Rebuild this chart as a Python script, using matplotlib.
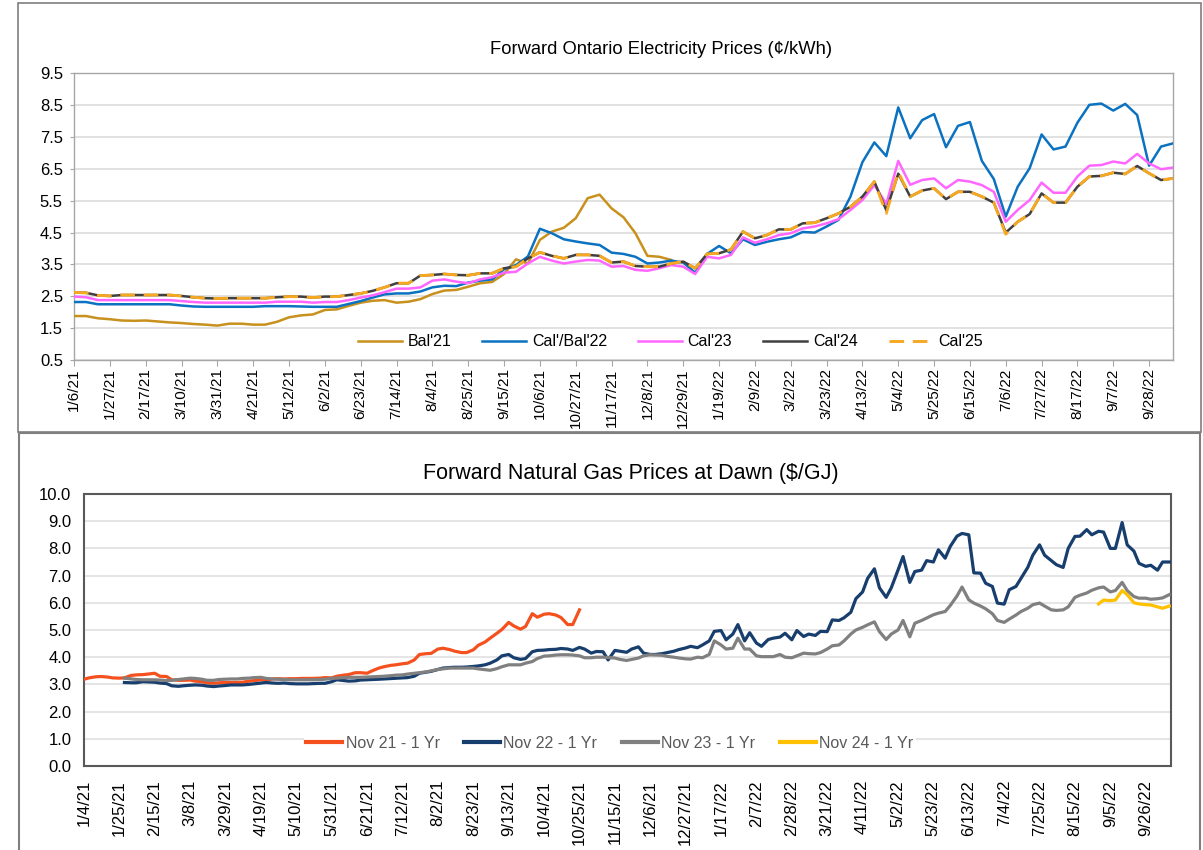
import numpy as np
import pandas as pd
import matplotlib
matplotlib.use("Agg")
import matplotlib.pyplot as plt
import matplotlib.dates as mdates
from matplotlib.patches import Rectangle
from matplotlib.ticker import FuncFormatter, FixedLocator

plt.rcParams['font.family'] = ['Liberation Sans', 'DejaVu Sans']

# ---------------- Top chart: Forward Ontario Electricity Prices (weekly) ----------------
elec_dates = pd.date_range('2021-01-06', periods=93, freq='7D')

bal21 = [1.88, 1.88, 1.81, 1.78, 1.74, 1.73, 1.74, 1.71, 1.68, 1.66,
         1.63, 1.61, 1.58, 1.64, 1.64, 1.61, 1.61, 1.70, 1.84, 1.90,
         1.93, 2.07, 2.09, 2.20, 2.30, 2.36, 2.38, 2.30, 2.33, 2.41,
         2.57, 2.68, 2.70, 2.80, 2.91, 2.95, 3.20, 3.66, 3.53, 4.27,
         4.53, 4.65, 4.95, 5.58, 5.69, 5.26, 4.98, 4.48, 3.77, 3.74,
         3.64]

cal22 = [2.32, 2.32, 2.25, 2.25, 2.25, 2.25, 2.25, 2.25, 2.25, 2.21,
         2.18, 2.17, 2.17, 2.17, 2.17, 2.17, 2.19, 2.19, 2.19, 2.18,
         2.17, 2.17, 2.17, 2.26, 2.35, 2.46, 2.56, 2.59, 2.59, 2.65,
         2.78, 2.83, 2.82, 2.93, 2.99, 3.03, 3.35, 3.48, 3.75, 4.62,
         4.48, 4.29, 4.22, 4.16, 4.11, 3.87, 3.83, 3.74, 3.53, 3.56,
         3.62, 3.56, 3.24, 3.83, 4.08, 3.85, 4.29, 4.11, 4.21, 4.29,
         4.35, 4.52, 4.50, 4.69, 4.90, 5.63, 6.71, 7.33, 6.90, 8.43,
         7.46, 8.03, 8.22, 7.18, 7.85, 7.97, 6.75, 6.18, 5.00, 5.94,
         6.52, 7.58, 7.11, 7.20, 7.95, 8.51, 8.55, 8.33, 8.54, 8.19,
         6.60, 7.20, 7.30]

cal23 = [2.49, 2.47, 2.38, 2.38, 2.38, 2.38, 2.38, 2.38, 2.38, 2.35,
         2.32, 2.30, 2.30, 2.30, 2.30, 2.30, 2.30, 2.33, 2.33, 2.33,
         2.30, 2.32, 2.32, 2.38, 2.46, 2.53, 2.63, 2.74, 2.74, 2.78,
         2.99, 3.03, 2.96, 2.91, 3.03, 3.10, 3.24, 3.27, 3.53, 3.74,
         3.62, 3.53, 3.59, 3.64, 3.62, 3.43, 3.45, 3.33, 3.30, 3.38,
         3.48, 3.43, 3.20, 3.74, 3.69, 3.80, 4.35, 4.18, 4.29, 4.42,
         4.48, 4.63, 4.69, 4.79, 4.92, 5.21, 5.52, 5.99, 5.40, 6.75,
         6.00, 6.15, 6.20, 5.89, 6.15, 6.10, 5.99, 5.78, 4.84, 5.21,
         5.52, 6.07, 5.75, 5.75, 6.26, 6.60, 6.62, 6.73, 6.67, 6.97,
         6.67, 6.49, 6.54]

cal24 = [2.62, 2.61, 2.53, 2.51, 2.54, 2.54, 2.54, 2.54, 2.54, 2.51,
         2.47, 2.44, 2.43, 2.44, 2.44, 2.44, 2.44, 2.47, 2.49, 2.49,
         2.46, 2.49, 2.49, 2.54, 2.59, 2.67, 2.78, 2.91, 2.91, 3.15,
         3.17, 3.20, 3.17, 3.16, 3.22, 3.22, 3.38, 3.43, 3.69, 3.88,
         3.77, 3.69, 3.80, 3.80, 3.77, 3.56, 3.59, 3.45, 3.43, 3.43,
         3.53, 3.59, 3.38, 3.83, 3.85, 3.97, 4.53, 4.32, 4.42, 4.60,
         4.60, 4.79, 4.81, 4.95, 5.10, 5.31, 5.63, 6.10, 5.20, 6.35,
         5.63, 5.82, 5.89, 5.55, 5.78, 5.78, 5.63, 5.44, 4.50, 4.84,
         5.08, 5.73, 5.44, 5.44, 5.94, 6.26, 6.28, 6.38, 6.34, 6.59,
         6.36, 6.15, 6.20]

cal25 = [2.62, 2.61, 2.53, 2.51, 2.54, 2.54, 2.54, 2.54, 2.54, 2.51,
         2.47, 2.44, 2.43, 2.44, 2.44, 2.44, 2.44, 2.47, 2.49, 2.49,
         2.46, 2.49, 2.49, 2.54, 2.59, 2.67, 2.78, 2.91, 2.91, 3.15,
         3.17, 3.20, 3.17, 3.16, 3.22, 3.22, 3.38, 3.43, 3.69, 3.88,
         3.77, 3.69, 3.80, 3.80, 3.77, 3.56, 3.59, 3.45, 3.43, 3.43,
         3.53, 3.59, 3.38, 3.83, 3.85, 3.97, 4.53, 4.32, 4.42, 4.60,
         4.60, 4.79, 4.81, 4.95, 5.10, 5.31, 5.63, 6.10, 5.10, 6.40,
         5.63, 5.82, 5.89, 5.55, 5.78, 5.78, 5.63, 5.44, 4.45, 4.84,
         5.08, 5.73, 5.44, 5.44, 5.94, 6.26, 6.28, 6.38, 6.34, 6.59,
         6.36, 6.15, 6.20]

elec_labels = ["Bal'21", "Cal'/Bal'22", "Cal'23", "Cal'24", "Cal'25"]

# ---------------- Bottom chart: Forward Natural Gas Prices at Dawn (Mon/Thu) ----------------
_mondays = pd.date_range('2021-01-04', periods=93, freq='7D')
gas_dates = pd.DatetimeIndex(sorted(list(_mondays) + list(_mondays[:-1] + pd.Timedelta(days=3))))

nov21_start = 0
nov21 = [3.19, 3.24, 3.28, 3.29, 3.27, 3.24, 3.23, 3.24, 3.33, 3.35,
         3.36, 3.38, 3.41, 3.30, 3.29, 3.17, 3.15, 3.15, 3.16, 3.12,
         3.10, 3.06, 3.04, 3.06, 3.07, 3.07, 3.07, 3.08, 3.12, 3.14,
         3.17, 3.16, 3.20, 3.21, 3.20, 3.21, 3.21, 3.22, 3.22, 3.22,
         3.23, 3.25, 3.24, 3.30, 3.34, 3.36, 3.43, 3.43, 3.41, 3.50,
         3.60, 3.65, 3.70, 3.72, 3.76, 3.78, 3.90, 4.10, 4.13, 4.14,
         4.30, 4.33, 4.28, 4.22, 4.17, 4.17, 4.27, 4.44, 4.56, 4.70,
         4.88, 5.02, 5.28, 5.15, 5.03, 5.13, 5.60, 5.47, 5.58, 5.60,
         5.55, 5.46, 5.20, 5.20, 5.74]

nov22_start = 7
nov22 = [3.07,
         3.06, 3.06, 3.10, 3.09, 3.08, 3.05, 3.03, 2.95, 2.93, 2.95,
         2.97, 2.98, 2.97, 2.94, 2.92, 2.94, 2.96, 2.98, 2.98, 2.98,
         3.00, 3.02, 3.05, 3.07, 3.05, 3.04, 3.05, 3.03, 3.02, 3.02,
         3.02, 3.03, 3.04, 3.04, 3.10, 3.17, 3.14, 3.12, 3.13, 3.16,
         3.17, 3.18, 3.19, 3.20, 3.21, 3.22, 3.24, 3.25, 3.30, 3.41,
         3.45, 3.48, 3.55, 3.60, 3.62, 3.63, 3.63, 3.64, 3.66, 3.68,
         3.72, 3.78, 3.90, 4.05, 4.10, 3.98, 3.92, 3.95, 4.20, 4.25,
         4.26, 4.28, 4.29, 4.32, 4.30, 4.25, 4.36, 4.30, 4.15, 4.21,
         4.20, 3.90, 4.25, 4.22, 4.18, 4.30, 4.38, 4.15, 4.10, 4.10,
         4.13, 4.17, 4.22, 4.28, 4.34, 4.40, 4.35, 4.45, 4.60, 4.95,
         4.98, 4.64, 4.85, 5.20, 4.60, 4.90, 4.52, 4.40, 4.65, 4.70,
         4.74, 4.88, 4.64, 4.98, 4.76, 4.85, 4.80, 4.95, 4.94, 5.37,
         5.35, 5.45, 5.65, 6.15, 6.40, 6.90, 7.25, 6.55, 6.20, 6.55,
         7.20, 7.70, 6.75, 7.15, 7.20, 7.55, 7.50, 7.95, 7.64, 8.07,
         8.45, 8.55, 8.50, 7.10, 7.09, 6.72, 6.60, 5.99, 5.95, 6.48,
         6.60, 6.90, 7.30, 7.75, 8.13, 7.75, 7.55, 7.40, 7.30, 8.00,
         8.44, 8.45, 8.69, 8.50, 8.63, 8.60, 8.00, 8.00, 8.95, 8.13,
         7.90, 7.45, 7.34, 7.38, 7.20, 7.50, 7.50]

nov23_start = 7
nov23 = [3.23,
         3.20, 3.18, 3.17, 3.17, 3.17, 3.16, 3.14, 3.15, 3.18, 3.20,
         3.23, 3.22, 3.19, 3.15, 3.15, 3.18, 3.19, 3.20, 3.20, 3.22,
         3.23, 3.25, 3.26, 3.22, 3.20, 3.19, 3.18, 3.17, 3.17, 3.17,
         3.17, 3.17, 3.18, 3.19, 3.22, 3.23, 3.25, 3.26, 3.26, 3.26,
         3.27, 3.28, 3.29, 3.30, 3.32, 3.34, 3.35, 3.38, 3.41, 3.43,
         3.46, 3.50, 3.55, 3.57, 3.60, 3.60, 3.60, 3.60, 3.60, 3.57,
         3.54, 3.52, 3.58, 3.65, 3.72, 3.72, 3.72, 3.78, 3.84, 3.95,
         4.04, 4.05, 4.08, 4.09, 4.09, 4.08, 4.05, 3.98, 3.98, 4.00,
         4.00, 3.99, 3.97, 3.92, 3.88, 3.92, 3.97, 4.05, 4.09, 4.08,
         4.07, 4.03, 4.00, 3.97, 3.94, 3.93, 4.00, 3.98, 4.10, 4.60,
         4.45, 4.30, 4.33, 4.70, 4.30, 4.30, 4.05, 4.02, 4.02, 4.02,
         4.10, 4.00, 3.98, 4.05, 4.15, 4.13, 4.12, 4.17, 4.30, 4.42,
         4.45, 4.60, 4.85, 5.00, 5.10, 5.19, 5.30, 4.94, 4.65, 4.85,
         5.00, 5.35, 4.75, 5.25, 5.35, 5.44, 5.56, 5.62, 5.68, 5.90,
         6.25, 6.58, 6.11, 5.99, 5.88, 5.78, 5.60, 5.35, 5.28, 5.40,
         5.55, 5.68, 5.80, 5.93, 5.99, 5.88, 5.74, 5.72, 5.74, 5.85,
         6.20, 6.28, 6.36, 6.46, 6.55, 6.58, 6.40, 6.45, 6.75, 6.45,
         6.23, 6.17, 6.17, 6.13, 6.15, 6.18, 6.30]

nov24_start = 172
nov24 = [5.96, 6.10, 6.08, 6.10, 6.45, 6.30, 6.00, 5.96, 5.93, 5.92,
         5.85, 5.80, 5.88]

gas_labels = ["Nov 21 - 1 Yr", "Nov 22 - 1 Yr", "Nov 23 - 1 Yr", "Nov 24 - 1 Yr"]

# ---------------- Figure ----------------
W, H = 1203, 850
fig = plt.figure(figsize=(W / 100, H / 100), dpi=100)
fig.patch.set_facecolor('white')


def fx(px):
    return px / W


def fy(py):
    return 1 - py / H


def date_fmt(x, pos=None):
    d = mdates.num2date(x)
    return f"{d.month}/{d.day}/{d:%y}"


# outer chart frames
fig.add_artist(Rectangle((fx(18), fy(432)), fx(1201) - fx(18), fy(3) - fy(432),
                         transform=fig.transFigure, fill=False, edgecolor='#7F7F7F', lw=1.2))
fig.add_artist(Rectangle((fx(18.5), fy(860)), fx(1200) - fx(18.5), fy(432.5) - fy(860),
                         transform=fig.transFigure, fill=False, edgecolor='#7F7F7F', lw=1.5,
                         clip_on=False))

# ---- top axes ----
ax1 = fig.add_axes([fx(74), fy(360), fx(1173) - fx(74), fy(73.3) - fy(360)])
colors1 = ['#C8901C', '#0A72C0', '#FF66FF', '#404040', '#F7A823']
series1 = [bal21, cal22, cal23, cal24]
for vals, col, lab in zip(series1, colors1[:4], elec_labels[:4]):
    ax1.plot(elec_dates[:len(vals)], vals, color=col, lw=1.8, label=lab, zorder=3)
ax1.plot(elec_dates, cal25, color=colors1[4], lw=2.1, dashes=(5, 3),
         label=elec_labels[4], zorder=4)

ax1.set_ylim(0.5, 9.5)
ax1.set_yticks(np.arange(0.5, 9.6, 1.0))
ax1.yaxis.set_major_formatter(FuncFormatter(lambda v, p: f"{v:.1f}"))
ax1.set_xlim(pd.Timestamp('2021-01-06'), pd.Timestamp('2022-10-12'))
ticks1 = pd.date_range('2021-01-06', '2022-10-12', freq='21D')
ax1.xaxis.set_major_locator(FixedLocator(mdates.date2num(ticks1)))
ax1.xaxis.set_major_formatter(FuncFormatter(date_fmt))
ax1.grid(axis='y', color='#D9D9D9', lw=1.1)
ax1.set_axisbelow(True)
for s in ax1.spines.values():
    s.set_color('#A6A6A6')
    s.set_linewidth(1.0)
ax1.tick_params(axis='x', labelrotation=90, labelsize=11, length=4, pad=2,
                color='#A6A6A6', labelcolor='#000000')
ax1.tick_params(axis='y', labelsize=12, length=3, pad=5, color='#A6A6A6',
                labelcolor='#000000')
fig.text(fx(661), fy(50), 'Forward Ontario Electricity Prices (¢/kWh)',
         ha='center', va='center', fontsize=13.2, color='#000000')
leg1 = ax1.legend(loc='center left', bbox_to_anchor=(fx(358), fy(342)),
                  bbox_transform=fig.transFigure, ncol=5, frameon=False,
                  fontsize=11.5, handlelength=2.75, handletextpad=0.35,
                  columnspacing=1.95, borderpad=0, borderaxespad=0)

# ---- bottom axes ----
ax2 = fig.add_axes([fx(84), fy(766), fx(1171) - fx(84), fy(494) - fy(766)])
colors2 = ['#F4511E', '#183E6E', '#808080', '#FFC000']
gas_series = [(nov21_start, nov21), (nov22_start, nov22), (nov23_start, nov23),
              (nov24_start, nov24)]
for (st, vals), col, lab in zip(gas_series, colors2, gas_labels):
    ax2.plot(gas_dates[st:st + len(vals)], vals, color=col, lw=2.3, label=lab,
             solid_joinstyle='round', zorder=3)

ax2.set_ylim(0, 10)
ax2.set_yticks(np.arange(0, 10.1, 1.0))
ax2.yaxis.set_major_formatter(FuncFormatter(lambda v, p: f"{v:.1f}"))
ax2.set_xlim(pd.Timestamp('2021-01-04'), pd.Timestamp('2022-10-11'))
ticks2 = pd.date_range('2021-01-04', '2022-10-11', freq='21D')
ax2.xaxis.set_major_locator(FixedLocator(mdates.date2num(ticks2)))
ax2.xaxis.set_major_formatter(FuncFormatter(date_fmt))
ax2.grid(axis='y', color='#E3E3E3', lw=1.3)
ax2.set_axisbelow(True)
for s in ax2.spines.values():
    s.set_color('#595959')
    s.set_linewidth(1.5)
ax2.tick_params(axis='x', labelrotation=90, labelsize=12, length=0, pad=10,
                labelcolor='#000000')
ax2.tick_params(axis='y', labelsize=12, length=0, pad=9, labelcolor='#000000')
fig.text(fx(631), fy(473), 'Forward Natural Gas Prices at Dawn ($/GJ)',
         ha='center', va='center', fontsize=15.5, color='#000000')
leg2 = ax2.legend(loc='center left', bbox_to_anchor=(fx(304), fy(743)),
                  bbox_transform=fig.transFigure, ncol=4, frameon=True,
                  facecolor='white', edgecolor='none', framealpha=1,
                  fontsize=11.5, handlelength=2.25, handletextpad=0.2,
                  columnspacing=1.55, borderpad=0.15, borderaxespad=0)
for t in leg2.get_texts():
    t.set_color('#595959')
for h in leg2.get_lines():
    h.set_linewidth(3.0)

fig.savefig('out.png', dpi=100, facecolor='white')
